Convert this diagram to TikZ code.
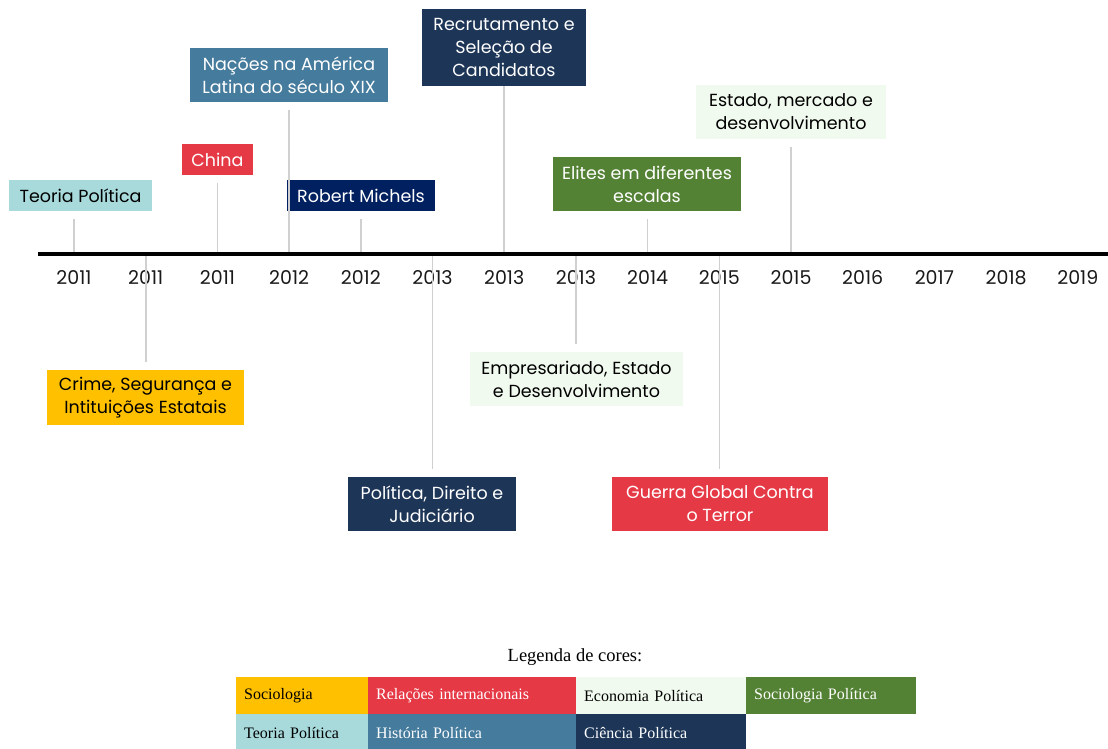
\documentclass[tikz,border=0pt]{standalone}
\usepackage{fontspec}
\setmainfont{Poppins}
\newfontfamily\legfont{Liberation Serif}
\usetikzlibrary{positioning}
\definecolor{cteal}{HTML}{A8DADC}
\definecolor{cgold}{HTML}{FFC000}
\definecolor{cred}{HTML}{E63946}
\definecolor{csteel}{HTML}{457B9D}
\definecolor{cnavy}{HTML}{002060}
\definecolor{cdark}{HTML}{1D3557}
\definecolor{clight}{HTML}{F1FAEE}
\definecolor{cgreen}{HTML}{548235}
\definecolor{ctick}{HTML}{D0D0D0}
\begin{document}
\begin{tikzpicture}[x=1pt, y=-1pt, font=\fontsize{17.5}{23}\selectfont, line join=round,
	evt/.style 2 args={inner sep=1pt, align=center, minimum width=#1pt, minimum height=#2pt},
	tick/.style={ctick, line width=1.6pt, shorten <=8pt},
	yearlbl/.style={font=\fontsize{19}{22}\selectfont, text=black!90},
	leg/.style={anchor=north west, inner xsep=8pt, inner ysep=0pt, minimum height=37pt, text width=#1pt, font=\legfont\fontsize{16}{18}\selectfont}]
	\useasboundingbox (0,0) rectangle (1108,749);
	\def\xo{74};\def\dx{71.7};\def\ya{254};
	\foreach \yr [count=\i] in {2011,2011,2011,2012,2012,2013,2013,2013,2014,2015,2015,2016,2017,2018,2019}{
		\coordinate (a\i) at ({\xo+(\i-1)*\dx},\ya);
		\node[yearlbl] (y\i) at ({\xo+(\i-1)*\dx},278) {\yr};}
	\node[evt={143}{31}, fill=cteal] (tp) at (80.5,195.5) {Teoria Política};
	\node[evt={197}{55}, fill=cgold] (crime) at (145.5,397.5) {Crime, Segurança e\\Intituições Estatais};
	\node[evt={71}{31}, fill=cred, text=white] (china) at (217.5,159.5) {China};
	\node[evt={198}{54}, fill=csteel, text=white] (nacoes) at (289,75) {Nações na América\\Latina do século XIX};
	\node[evt={148}{31}, fill=cnavy, text=white] (michels) at (361,195.5) {Robert Michels};
	\node[evt={168}{54}, fill=cdark, text=white] (direito) at (432,504) {Política, Direito e\\Judiciário};
	\node[evt={164}{77}, fill=cdark, text=white] (recrut) at (504,47.5) {Recrutamento e\\Seleção de\\Candidatos};
	\node[evt={213}{54}, fill=clight] (empres) at (576.5,379) {Empresariado, Estado\\e Desenvolvimento};
	\node[evt={188}{54}, fill=cgreen, text=white] (elites) at (647,184) {Elites em diferentes\\escalas};
	\node[evt={216}{54}, fill=cred, text=white] (guerra) at (720,504) {Guerra Global Contra\\o Terror};
	\node[evt={190}{54}, fill=clight] (estado) at (791,112) {Estado, mercado e\\desenvolvimento};
	\draw[tick] (tp.south -| a1) -- (a1);
	\draw[tick] (crime.north -| a2) -- (a2);
	\draw[tick] (china.south -| a3) -- (a3);
	\draw[tick] (nacoes.south -| a4) -- (a4);
	\draw[tick] (michels.south -| a5) -- (a5);
	\draw[tick] (direito.north -| a6) -- (a6);
	\draw[tick, shorten <=0pt] (recrut.south -| a7) -- (a7);
	\draw[tick] (empres.north -| a8) -- (a8);
	\draw[tick] (elites.south -| a9) -- (a9);
	\draw[tick] (guerra.north -| a10) -- (a10);
	\draw[tick] (estado.south -| a11) -- (a11);
	\coordinate (L) at (38,\ya);
	\coordinate (R) at (1108,\ya);
	\draw[line width=3.5pt] (L) -- (R);
	\node[font=\legfont\fontsize{18.5}{21}\selectfont] (legenda) at (575,657) {Legenda de cores:};
	\node[leg=116, fill=cgold] (soc) at (236,677) {Sociologia};
	\node[leg=192, fill=cred, text=white] (ri) at (368,677) {Relações internacionais};
	\node[leg=154, fill=clight] (eco) at (576,677) {Economia Política};
	\node[leg=154, fill=cgreen, text=white] (socpol) at (746,677) {Sociologia Política};
	\node[leg=116, fill=cteal] (teo) at (236,714) {Teoria Política};
	\node[leg=192, fill=csteel, text=white] (hist) at (368,714) {História Política};
	\node[leg=154, fill=cdark, text=white] (cien) at (576,714) {Ciência Política};
\end{tikzpicture}
\end{document}
